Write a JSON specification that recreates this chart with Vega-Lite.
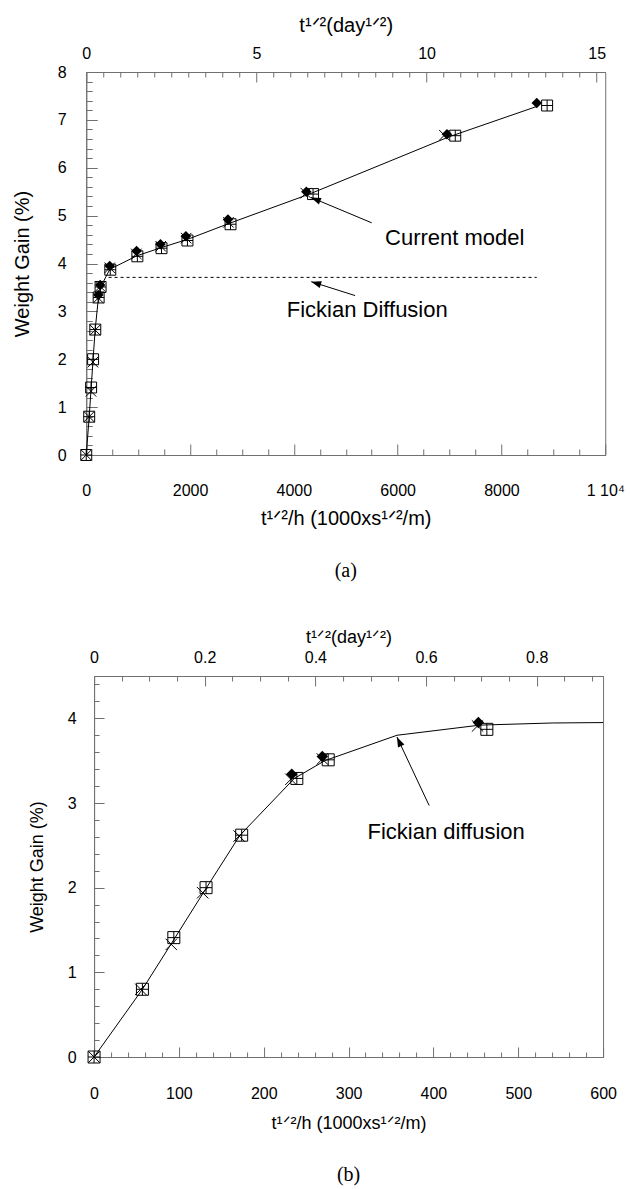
{
  "$schema": "https://vega.github.io/schema/vega-lite/v6.json",
  "padding": {"left": 11, "top": 14, "right": 5, "bottom": 5},
  "spacing": 45,
  "center": true,
  "config": {
    "font": "Liberation Sans",
    "view": {"stroke": "#707070", "strokeWidth": 1},
    "axis": {
      "domainColor": "#707070", "tickColor": "#707070", "tickWidth": 1, "domainWidth": 1,
      "labelColor": "#000", "titleColor": "#000",
      "labelFont": "Liberation Sans", "titleFont": "Liberation Sans",
      "titleFontWeight": "normal", "grid": false,
      "labelFlush": false, "labelOverlap": false, "labelBound": false,
      "labelFontSize": 16, "titleFontSize": 20
    }
  },
  "datasets": {
    "pts": [
      {"s": "diamond", "h": 233, "wg": 3.34}, {"s": "diamond", "h": 269, "wg": 3.55}, {"s": "diamond", "h": 453, "wg": 3.95},
      {"s": "diamond", "h": 970, "wg": 4.26}, {"s": "diamond", "h": 1430, "wg": 4.40}, {"s": "diamond", "h": 1920, "wg": 4.57},
      {"s": "diamond", "h": 2730, "wg": 4.92}, {"s": "diamond", "h": 4240, "wg": 5.50}, {"s": "diamond", "h": 6950, "wg": 6.70},
      {"s": "diamond", "h": 8680, "wg": 7.35},
      {"s": "cross", "h": 0, "wg": 0}, {"s": "cross", "h": 55, "wg": 0.80}, {"s": "cross", "h": 91, "wg": 1.33},
      {"s": "cross", "h": 128, "wg": 1.94}, {"s": "cross", "h": 171, "wg": 2.61}, {"s": "cross", "h": 232, "wg": 3.28},
      {"s": "cross", "h": 269, "wg": 3.52}, {"s": "cross", "h": 452, "wg": 3.91}, {"s": "cross", "h": 965, "wg": 4.20},
      {"s": "cross", "h": 1435, "wg": 4.36}, {"s": "cross", "h": 1925, "wg": 4.53}, {"s": "cross", "h": 2740, "wg": 4.86},
      {"s": "cross", "h": 4230, "wg": 5.47}, {"s": "cross", "h": 6900, "wg": 6.68},
      {"s": "square", "h": 0, "wg": 0}, {"s": "square", "h": 57, "wg": 0.80}, {"s": "square", "h": 94, "wg": 1.41},
      {"s": "square", "h": 132, "wg": 2.00}, {"s": "square", "h": 174, "wg": 2.62}, {"s": "square", "h": 239, "wg": 3.29},
      {"s": "square", "h": 276, "wg": 3.51}, {"s": "square", "h": 463, "wg": 3.87}, {"s": "square", "h": 985, "wg": 4.15},
      {"s": "square", "h": 1450, "wg": 4.32}, {"s": "square", "h": 1950, "wg": 4.48}, {"s": "square", "h": 2780, "wg": 4.82},
      {"s": "square", "h": 4370, "wg": 5.45}, {"s": "square", "h": 7110, "wg": 6.67}, {"s": "square", "h": 8880, "wg": 7.30}
    ],
    "line_top": [
      {"h": 0, "wg": 0}, {"h": 57, "wg": 0.8}, {"h": 93, "wg": 1.38}, {"h": 130, "wg": 1.97}, {"h": 172, "wg": 2.62},
      {"h": 236, "wg": 3.3}, {"h": 272, "wg": 3.5}, {"h": 455, "wg": 3.88}, {"h": 975, "wg": 4.16}, {"h": 1440, "wg": 4.33},
      {"h": 1940, "wg": 4.5}, {"h": 2760, "wg": 4.84}, {"h": 4300, "wg": 5.45}, {"h": 7000, "wg": 6.65}, {"h": 8680, "wg": 7.28}
    ],
    "dash_top": [{"h": 430, "wg": 3.71}, {"h": 8680, "wg": 3.71}],
    "line_bot": [
      {"h": 0, "wg": 0}, {"h": 57, "wg": 0.8}, {"h": 93, "wg": 1.37}, {"h": 130, "wg": 1.96}, {"h": 172, "wg": 2.62},
      {"h": 236, "wg": 3.29}, {"h": 272, "wg": 3.5}, {"h": 357, "wg": 3.8}, {"h": 455, "wg": 3.92}, {"h": 540, "wg": 3.945},
      {"h": 600, "wg": 3.95}
    ],
    "notes_top": [
      {"h": 7100, "wg": 4.53, "label": "Current model"},
      {"h": 5414, "wg": 3.02, "label": "Fickian Diffusion"}
    ],
    "notes_bot": [
      {"h": 415, "wg": 2.66, "label": "Fickian diffusion"}
    ],
    "arrows_top": [
      {"name": "cm", "h": 5500, "wg": 4.85, "h2": 4330, "wg2": 5.38},
      {"name": "fd", "h": 5180, "wg": 3.33, "h2": 4335, "wg2": 3.62}
    ],
    "arrows_bot": [
      {"name": "fb", "h": 395, "wg": 2.97, "h2": 357, "wg2": 3.78}
    ],
    "dummy": [{"d": 0}]
  },
  "vconcat": [
    {
      "width": 519,
      "height": 383,
      "title": {"text": "(a)", "orient": "bottom", "font": "Liberation Serif", "fontSize": 20, "fontWeight": "normal", "offset": 33, "color": "#000"},
      "resolve": {"scale": {"x": "independent", "y": "independent"}},
      "layer": [
        {
          "data": {"name": "dummy"},
          "mark": {"type": "point", "opacity": 0},
          "encoding": {
            "x": {
              "field": "d", "type": "quantitative",
              "scale": {"domain": [0, 15.25], "nice": false, "zero": false},
              "axis": {
                "orient": "top", "title": "t¹ᐟ²(day¹ᐟ²)", "titlePadding": 10,
                "values": [0, 5, 10, 15], "format": "d",
                "tickSize": -10, "labelPadding": 21
              }
            },
            "y": {"field": "d", "type": "quantitative", "scale": {"domain": [0, 1]}, "axis": null}
          }
        },
        {
          "data": {"name": "dummy"},
          "mark": {"type": "point", "opacity": 0},
          "encoding": {
            "x": {
              "field": "d", "type": "quantitative",
              "scale": {"domain": [0, 15.25], "nice": false, "zero": false},
              "axis": {
                "orient": "top", "title": null, "labels": false, "domain": false,
                "values": [0.5,1,1.5,2,2.5,3,3.5,4,4.5,5.5,6,6.5,7,7.5,8,8.5,9,9.5,10.5,11,11.5,12,12.5,13,13.5,14,14.5],
                "tickSize": -5
              }
            },
            "y": {"field": "d", "type": "quantitative", "scale": {"domain": [0, 1]}, "axis": null}
          }
        },
        {
          "data": {"name": "line_top"},
          "mark": {"type": "point", "opacity": 0},
          "encoding": {
            "x": {
              "field": "h", "type": "quantitative",
              "scale": {"domain": [0, 10000], "nice": false},
              "axis": {
                "orient": "bottom", "title": null, "labels": false, "domain": false,
                "values": [500,1000,1500,2500,3000,3500,4500,5000,5500,6500,7000,7500,8500,9000,9500],
                "tickSize": -6
              }
            },
            "y": {
              "field": "wg", "type": "quantitative",
              "scale": {"domain": [0, 8], "nice": false},
              "axis": {
                "orient": "left", "title": null, "labels": false, "domain": false,
                "values": [0.2,0.4,0.6,0.8,1.2,1.4,1.6,1.8,2.2,2.4,2.6,2.8,3.2,3.4,3.6,3.8,4.2,4.4,4.6,4.8,5.2,5.4,5.6,5.8,6.2,6.4,6.6,6.8,7.2,7.4,7.6,7.8],
                "tickSize": -6
              }
            }
          }
        },
        {
          "data": {"name": "line_top"},
          "mark": {"type": "line", "color": "#000", "strokeWidth": 1},
          "encoding": {
            "x": {
              "field": "h", "type": "quantitative",
              "scale": {"domain": [0, 10000], "nice": false},
              "axis": {
                "orient": "bottom", "title": "t¹ᐟ²/h (1000xs¹ᐟ²/m)", "titlePadding": 10,
                "values": [0, 2000, 4000, 6000, 8000, 10000],
                "labelExpr": "datum.value === 10000 ? '1 10⁴' : format(datum.value, 'd')",
                "tickSize": -11, "labelPadding": 38
              }
            },
            "y": {
              "field": "wg", "type": "quantitative",
              "scale": {"domain": [0, 8], "nice": false},
              "axis": {
                "orient": "left", "title": "Weight Gain (%)", "titlePadding": 25,
                "values": [0, 1, 2, 3, 4, 5, 6, 7, 8], "format": "d",
                "tickSize": -11, "labelPadding": 31
              }
            }
          }
        },
        {
          "data": {"name": "dash_top"},
          "mark": {"type": "line", "color": "#000", "strokeWidth": 1, "strokeDash": [3, 3]},
          "encoding": {
            "x": {"field": "h", "type": "quantitative", "scale": {"domain": [0, 10000], "nice": false}, "axis": null},
            "y": {"field": "wg", "type": "quantitative", "scale": {"domain": [0, 8], "nice": false}, "axis": null}
          }
        },
        {
          "data": {"name": "pts"},
          "transform": [{"filter": "datum.s === 'square'"}],
          "mark": {"type": "point", "shape": "M-1,-1H1V1H-1ZM0,-1V1M-1,0H1", "filled": false, "stroke": "#000", "strokeWidth": 1, "size": 120, "opacity": 1},
          "encoding": {
            "x": {"field": "h", "type": "quantitative", "scale": {"domain": [0, 10000], "nice": false}, "axis": null},
            "y": {"field": "wg", "type": "quantitative", "scale": {"domain": [0, 8], "nice": false}, "axis": null}
          }
        },
        {
          "data": {"name": "pts"},
          "transform": [{"filter": "datum.s === 'cross'"}],
          "mark": {"type": "point", "shape": "M-1,-1L1,1M1,-1L-1,1", "filled": false, "stroke": "#000", "strokeWidth": 1, "size": 110, "opacity": 1},
          "encoding": {
            "x": {"field": "h", "type": "quantitative", "scale": {"domain": [0, 10000], "nice": false}, "axis": null},
            "y": {"field": "wg", "type": "quantitative", "scale": {"domain": [0, 8], "nice": false}, "axis": null}
          }
        },
        {
          "data": {"name": "pts"},
          "transform": [{"filter": "datum.s === 'diamond'"}],
          "mark": {"type": "point", "shape": "diamond", "filled": true, "color": "#000", "size": 110, "opacity": 1},
          "encoding": {
            "x": {"field": "h", "type": "quantitative", "scale": {"domain": [0, 10000], "nice": false}, "axis": null},
            "y": {"field": "wg", "type": "quantitative", "scale": {"domain": [0, 8], "nice": false}, "axis": null}
          }
        },
        {
          "data": {"name": "arrows_top"},
          "mark": {"type": "rule", "color": "#000", "strokeWidth": 1},
          "encoding": {
            "x": {"field": "h", "type": "quantitative", "scale": {"domain": [0, 10000], "nice": false}, "axis": null},
            "y": {"field": "wg", "type": "quantitative", "scale": {"domain": [0, 8], "nice": false}, "axis": null},
            "x2": {"field": "h2"},
            "y2": {"field": "wg2"}
          }
        },
        {
          "data": {"name": "arrows_top"},
          "transform": [{"filter": "datum.name === 'cm'"}],
          "mark": {"type": "point", "shape": "M0,0L-0.35,1L0.35,1Z", "filled": true, "color": "#000", "size": 400, "opacity": 1, "angle": 292.6},
          "encoding": {
            "x": {"field": "h2", "type": "quantitative", "scale": {"domain": [0, 10000], "nice": false}, "axis": null},
            "y": {"field": "wg2", "type": "quantitative", "scale": {"domain": [0, 8], "nice": false}, "axis": null}
          }
        },
        {
          "data": {"name": "arrows_top"},
          "transform": [{"filter": "datum.name === 'fd'"}],
          "mark": {"type": "point", "shape": "M0,0L-0.35,1L0.35,1Z", "filled": true, "color": "#000", "size": 400, "opacity": 1, "angle": 287.5},
          "encoding": {
            "x": {"field": "h2", "type": "quantitative", "scale": {"domain": [0, 10000], "nice": false}, "axis": null},
            "y": {"field": "wg2", "type": "quantitative", "scale": {"domain": [0, 8], "nice": false}, "axis": null}
          }
        },
        {
          "data": {"name": "notes_top"},
          "mark": {"type": "text", "font": "Liberation Sans", "fontSize": 22, "align": "center", "baseline": "middle", "color": "#000"},
          "encoding": {
            "x": {"field": "h", "type": "quantitative", "scale": {"domain": [0, 10000], "nice": false}, "axis": null},
            "y": {"field": "wg", "type": "quantitative", "scale": {"domain": [0, 8], "nice": false}, "axis": null},
            "text": {"field": "label"}
          }
        }
      ]
    },
    {
      "width": 509,
      "height": 381,
      "title": {"text": "(b)", "orient": "bottom", "font": "Liberation Serif", "fontSize": 20, "fontWeight": "normal", "offset": 33, "color": "#000"},
      "resolve": {"scale": {"x": "independent", "y": "independent"}},
      "layer": [
        {
          "data": {"name": "dummy"},
          "mark": {"type": "point", "opacity": 0},
          "encoding": {
            "x": {
              "field": "d", "type": "quantitative",
              "scale": {"domain": [0, 0.92], "nice": false, "zero": false},
              "axis": {
                "orient": "top", "title": "t¹ᐟ²(day¹ᐟ²)", "titlePadding": 3, "titleFontSize": 18,
                "values": [0, 0.2, 0.4, 0.6, 0.8],
                "labelExpr": "datum.value === 0 ? '0' : format(datum.value, '.1f')",
                "tickSize": -10, "labelPadding": 21
              }
            },
            "y": {"field": "d", "type": "quantitative", "scale": {"domain": [0, 1]}, "axis": null}
          }
        },
        {
          "data": {"name": "dummy"},
          "mark": {"type": "point", "opacity": 0},
          "encoding": {
            "x": {
              "field": "d", "type": "quantitative",
              "scale": {"domain": [0, 0.92], "nice": false, "zero": false},
              "axis": {
                "orient": "top", "title": null, "labels": false, "domain": false,
                "values": [0.05,0.1,0.15,0.25,0.3,0.35,0.45,0.5,0.55,0.65,0.7,0.75,0.85,0.9],
                "tickSize": -5
              }
            },
            "y": {"field": "d", "type": "quantitative", "scale": {"domain": [0, 1]}, "axis": null}
          }
        },
        {
          "data": {"name": "line_bot"},
          "mark": {"type": "point", "opacity": 0},
          "encoding": {
            "x": {
              "field": "h", "type": "quantitative",
              "scale": {"domain": [0, 600], "nice": false},
              "axis": {
                "orient": "bottom", "title": null, "labels": false, "domain": false,
                "values": [20,40,60,80,120,140,160,180,220,240,260,280,320,340,360,380,420,440,460,480,520,540,560,580],
                "tickSize": -5
              }
            },
            "y": {
              "field": "wg", "type": "quantitative",
              "scale": {"domain": [0, 4.5], "nice": false},
              "axis": {
                "orient": "left", "title": null, "labels": false, "domain": false,
                "values": [0.2,0.4,0.6,0.8,1.2,1.4,1.6,1.8,2.2,2.4,2.6,2.8,3.2,3.4,3.6,3.8,4.2,4.4],
                "tickSize": -5
              }
            }
          }
        },
        {
          "data": {"name": "line_bot"},
          "mark": {"type": "line", "color": "#000", "strokeWidth": 1},
          "encoding": {
            "x": {
              "field": "h", "type": "quantitative",
              "scale": {"domain": [0, 600], "nice": false},
              "axis": {
                "orient": "bottom", "title": "t¹ᐟ²/h (1000xs¹ᐟ²/m)", "titlePadding": 13, "titleFontSize": 18,
                "values": [0, 100, 200, 300, 400, 500, 600], "format": "d",
                "tickSize": -10, "labelPadding": 38
              }
            },
            "y": {
              "field": "wg", "type": "quantitative",
              "scale": {"domain": [0, 4.5], "nice": false},
              "axis": {
                "orient": "left", "title": "Weight Gain (%)", "titlePadding": 21, "titleFontSize": 18,
                "values": [0, 1, 2, 3, 4], "format": "d",
                "tickSize": -10, "labelPadding": 28
              }
            }
          }
        },
        {
          "data": {"name": "pts"},
          "transform": [{"filter": "datum.s === 'square' && datum.h <= 600"}],
          "mark": {"type": "point", "shape": "M-1,-1H1V1H-1ZM0,-1V1M-1,0H1", "filled": false, "stroke": "#000", "strokeWidth": 1, "size": 144, "opacity": 1},
          "encoding": {
            "x": {"field": "h", "type": "quantitative", "scale": {"domain": [0, 600], "nice": false}, "axis": null},
            "y": {"field": "wg", "type": "quantitative", "scale": {"domain": [0, 4.5], "nice": false}, "axis": null}
          }
        },
        {
          "data": {"name": "pts"},
          "transform": [{"filter": "datum.s === 'cross' && datum.h <= 600"}],
          "mark": {"type": "point", "shape": "M-1,-1L1,1M1,-1L-1,1", "filled": false, "stroke": "#000", "strokeWidth": 1, "size": 130, "opacity": 1},
          "encoding": {
            "x": {"field": "h", "type": "quantitative", "scale": {"domain": [0, 600], "nice": false}, "axis": null},
            "y": {"field": "wg", "type": "quantitative", "scale": {"domain": [0, 4.5], "nice": false}, "axis": null}
          }
        },
        {
          "data": {"name": "pts"},
          "transform": [{"filter": "datum.s === 'diamond' && datum.h <= 600"}],
          "mark": {"type": "point", "shape": "diamond", "filled": true, "color": "#000", "size": 130, "opacity": 1},
          "encoding": {
            "x": {"field": "h", "type": "quantitative", "scale": {"domain": [0, 600], "nice": false}, "axis": null},
            "y": {"field": "wg", "type": "quantitative", "scale": {"domain": [0, 4.5], "nice": false}, "axis": null}
          }
        },
        {
          "data": {"name": "arrows_bot"},
          "mark": {"type": "rule", "color": "#000", "strokeWidth": 1},
          "encoding": {
            "x": {"field": "h", "type": "quantitative", "scale": {"domain": [0, 600], "nice": false}, "axis": null},
            "y": {"field": "wg", "type": "quantitative", "scale": {"domain": [0, 4.5], "nice": false}, "axis": null},
            "x2": {"field": "h2"},
            "y2": {"field": "wg2"}
          }
        },
        {
          "data": {"name": "arrows_bot"},
          "mark": {"type": "point", "shape": "M0,0L-0.35,1L0.35,1Z", "filled": true, "color": "#000", "size": 400, "opacity": 1, "angle": 334.8},
          "encoding": {
            "x": {"field": "h2", "type": "quantitative", "scale": {"domain": [0, 600], "nice": false}, "axis": null},
            "y": {"field": "wg2", "type": "quantitative", "scale": {"domain": [0, 4.5], "nice": false}, "axis": null}
          }
        },
        {
          "data": {"name": "notes_bot"},
          "mark": {"type": "text", "font": "Liberation Sans", "fontSize": 22, "align": "center", "baseline": "middle", "color": "#000"},
          "encoding": {
            "x": {"field": "h", "type": "quantitative", "scale": {"domain": [0, 600], "nice": false}, "axis": null},
            "y": {"field": "wg", "type": "quantitative", "scale": {"domain": [0, 4.5], "nice": false}, "axis": null},
            "text": {"field": "label"}
          }
        }
      ]
    }
  ]
}
